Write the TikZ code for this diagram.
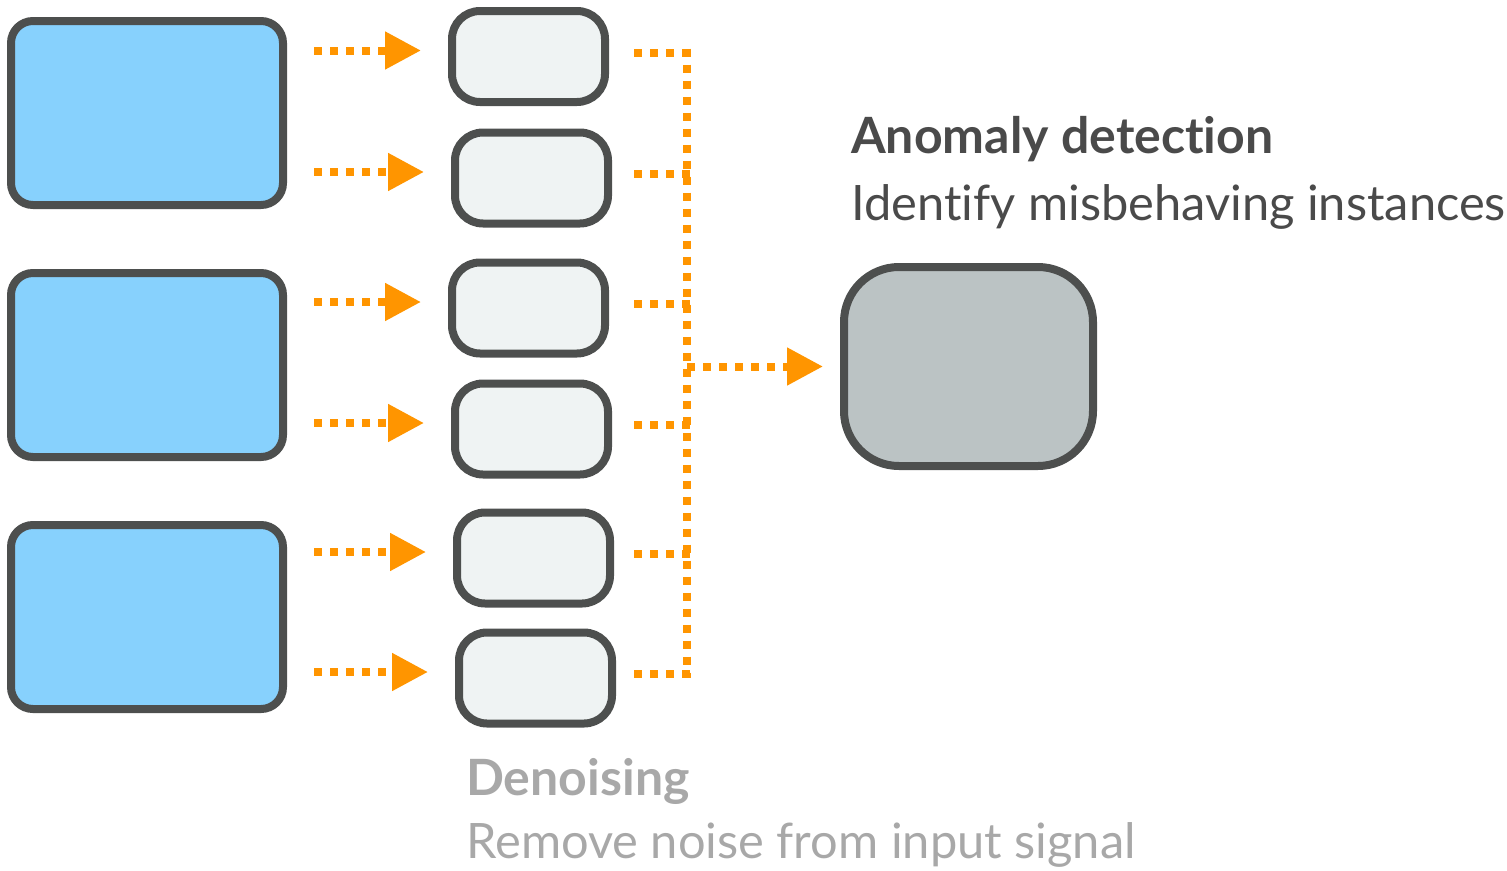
\documentclass[tikz,border=0pt]{standalone}
\usepackage{fontspec}
\setmainfont{Lato}[Ligatures=NoCommon]
\usetikzlibrary{arrows.meta,positioning,calc}
\definecolor{edge}{HTML}{4D4F4E}
\definecolor{inputfill}{HTML}{87D1FD}
\definecolor{denoisefill}{HTML}{EFF3F3}
\definecolor{detectfill}{HTML}{BBC3C4}
\definecolor{flowcolor}{HTML}{FF9500}
\definecolor{titledark}{HTML}{4A4A4A}
\definecolor{titlelight}{HTML}{A8A8A8}

\begin{document}
\begin{tikzpicture}[
  x=1pt,y=-1pt,
  box/.style={
    draw=edge,line width=8pt,inner sep=0pt,outer sep=0pt
  },
  input/.style={box,fill=inputfill,rounded corners=22pt,
    minimum width=272pt,minimum height=184pt},
  denoise/.style={box,fill=denoisefill,rounded corners=28pt,
    minimum width=153pt,minimum height=91pt},
  detect/.style={box,fill=detectfill,rounded corners=55pt,
    minimum width=249pt,minimum height=199pt},
  dots/.style={draw=flowcolor,line width=8pt,line cap=butt,
    dash pattern=on 8pt off 8pt},
  flow/.style={dots,-{Triangle[length=36pt,width=36pt]}},
  heading/.style={anchor=base west,inner sep=0pt,
    font=\fontsize{50}{58}\selectfont\bfseries},
  caption/.style={anchor=base west,inner sep=0pt,
    font=\fontsize{48.8}{58}\selectfont}
]
\useasboundingbox (0,0) rectangle (1507,870);

% input signals
\node[input] (in1) at (147,113) {};
\node[input] (in2) at (147,365) {};
\node[input] (in3) at (147,617) {};

% denoising stage
\node[denoise] (sm1) at (528.5,56.5) {};
\node[denoise] (sm2) at (531.5,178) {};
\node[denoise] (sm3) at (528.5,308) {};
\node[denoise] (sm4) at (531.5,429) {};
\node[denoise] (sm5) at (533.5,558) {};
\node[denoise] (sm6) at (535.5,678) {};

% anomaly detection
\node[detect] (big) at (968.5,366.5) {};

\node[heading,text=titledark] (adtitle) at (851,153) {Anomaly detection};
\node[caption,text=titledark] (adtext) at (851,220)
  {Identify misbehaving instances};
\node[heading,text=titlelight] (dntitle) at (466,795) {Denoising};
\node[caption,text=titlelight] (dntext) at (466,858)
  {Remove noise from input signal};

\coordinate (busleft) at (634,0);
\coordinate (bus) at (691,0);
\coordinate (busmid) at (687,0);

\foreach \i/\j in {1/1,1/2,2/3,2/4,3/5,3/6}
  \draw[flow] ([xshift=31pt,yshift=6pt]in\i.east |- sm\j.west)
    -- ([xshift=-31pt,yshift=6pt]sm\j.west);

\foreach \j in {1,...,6}
  \draw[dots] ([yshift=4pt]sm\j.east -| busleft)
    -- ([yshift=4pt]sm\j.east -| bus);

\draw[dots] ([yshift=8pt]sm1.east -| busmid)
  -- ([yshift=0pt]sm6.east -| busmid);
\draw[flow] (busmid |- big.west) -- ([xshift=-21pt]big.west);

\end{tikzpicture}
\end{document}
